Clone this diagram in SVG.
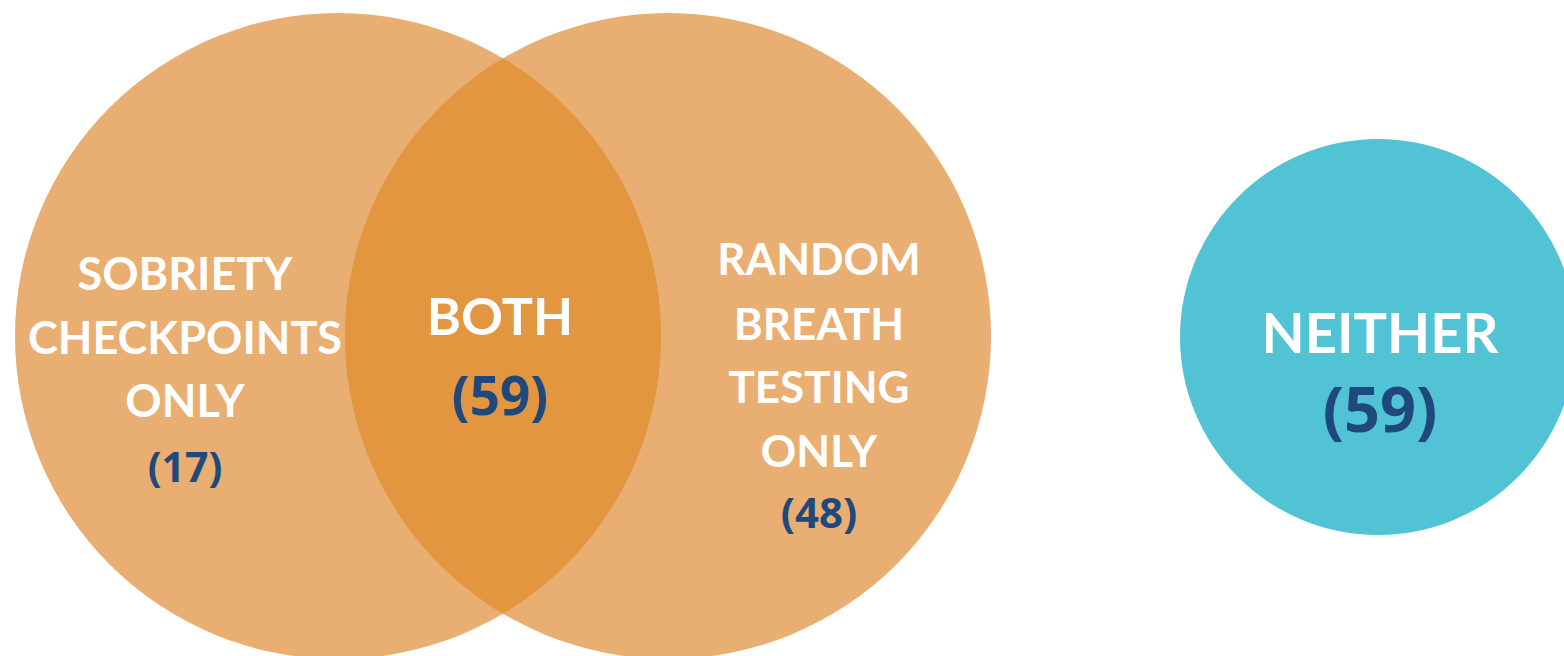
<svg xmlns="http://www.w3.org/2000/svg" width="1564" height="656" viewBox="0 0 1564 656">
<style>
.set{fill:#E9AE72;}
.lens{fill:#E2963F;}
.neither{fill:#51C3D5;}
text{font-family:Lato,"Open Sans","Liberation Sans",sans-serif;font-weight:700;text-anchor:middle;}
.lbl{fill:#FFFFFF;}
.num{fill:#1F497D;font-family:"Open Sans","Liberation Sans",sans-serif;}
</style>
<g id="sobriety">
<circle class="set" cx="338" cy="336" r="323"/>
</g>
<g id="random">
<circle class="set" cx="668" cy="336" r="323"/>
</g>
<g id="both">
<path class="lens" d="M503,58.3 A323,323 0 0 1 503,613.7 A323,323 0 0 1 503,58.3 Z"/>
</g>
<g id="neither">
<circle class="neither" cx="1378" cy="337" r="198"/>
</g>
<g id="labels">
<text class="lbl" x="185" y="290" font-size="45">SOBRIETY</text>
<text class="lbl" x="185" y="354" font-size="45">CHECKPOINTS</text>
<text class="lbl" x="185" y="417" font-size="45">ONLY</text>
<text class="num" x="185" y="482" font-size="41">(17)</text>
<text class="lbl" x="500" y="335" font-size="52">BOTH</text>
<text class="num" x="500" y="415" font-size="53">(59)</text>
<text class="lbl" x="819" y="275" font-size="44">RANDOM</text>
<text class="lbl" x="819" y="340" font-size="44">BREATH</text>
<text class="lbl" x="819" y="403" font-size="44">TESTING</text>
<text class="lbl" x="819" y="467" font-size="44">ONLY</text>
<text class="num" x="819" y="528" font-size="42">(48)</text>
<text class="lbl" x="1380" y="353" font-size="56">NEITHER</text>
<text class="num" x="1380" y="432" font-size="63">(59)</text>
</g>
</svg>
